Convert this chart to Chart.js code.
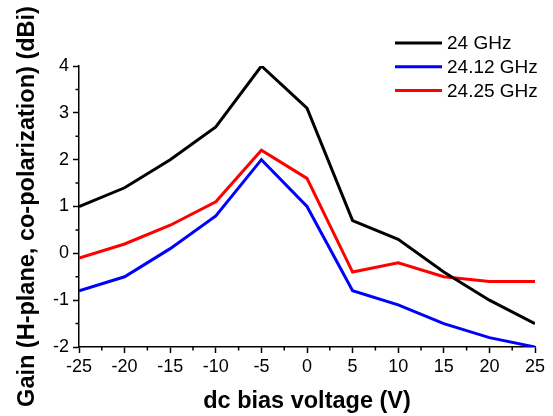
<!DOCTYPE html>
<html lang="en">
<head>
    <meta charset="UTF-8" />
    <title>Gain vs dc bias voltage</title>
    <style>
        html, body { margin: 0; padding: 0; background: #fff; }
        #wrap { width: 553px; height: 416px; position: relative; }
    </style>
</head>
<body>
    <div id="wrap"><canvas id="myChart" width="553" height="416"></canvas></div>

    <script src="https://cdn.jsdelivr.net/npm/chart.js@4/dist/chart.umd.min.js"></script>
    <script>
        // data
        const voltages = [-25, -20, -15, -10, -5, 0, 5, 10, 15, 20, 25];
        const gain24 = [1.0, 1.4, 2.0, 2.7, 4.0, 3.1, 0.7, 0.3, -0.4, -1.0, -1.5];
        const gain2412 = [-0.8, -0.5, 0.1, 0.8, 2.0, 1.0, -0.8, -1.1, -1.5, -1.8, -2.0];
        const gain2425 = [-0.1, 0.2, 0.6, 1.1, 2.2, 1.6, -0.4, -0.2, -0.5, -0.6, -0.6];
        const seriesNames = ["24 GHz", "24.12 GHz", "24.25 GHz"];
        const seriesColors = ["#000000", "#0000ff", "#ff0000"];

        const font = "Arial, 'Liberation Sans', sans-serif";

        const toPoints = (ys) => voltages.map((v, i) => ({ x: v, y: ys[i] }));

        // small ticks between the labelled ones, drawn outward like origin
        const minorTicks = {
            id: "minorTicks",
            afterDraw(chart) {
                const ctx = chart.ctx;
                const xs = chart.scales.x, ys = chart.scales.y;
                ctx.save();
                ctx.strokeStyle = "#000";
                ctx.lineWidth = 1.5;
                ctx.beginPath();
                for (let v = -22.5; v < 25; v += 5) {
                    const px = xs.getPixelForValue(v);
                    ctx.moveTo(px, xs.top);
                    ctx.lineTo(px, xs.top + 3.5);
                }
                for (let v = -1.5; v < 4; v += 1) {
                    const py = ys.getPixelForValue(v);
                    ctx.moveTo(ys.right, py);
                    ctx.lineTo(ys.right - 3.5, py);
                }
                ctx.stroke();
                ctx.restore();
            }
        };

        // legend sitting inside the plot, top right
        const innerLegend = {
            id: "innerLegend",
            afterDraw(chart) {
                const ctx = chart.ctx;
                ctx.save();
                ctx.font = "19px " + font;
                ctx.textBaseline = "middle";
                chart.data.datasets.forEach((ds, i) => {
                    const y = 43 + i * 23.7;
                    ctx.strokeStyle = ds.borderColor;
                    ctx.lineWidth = 3;
                    ctx.beginPath();
                    ctx.moveTo(395, y);
                    ctx.lineTo(442, y);
                    ctx.stroke();
                    ctx.fillStyle = "#000";
                    ctx.fillText(ds.label, 447, y + 1);
                });
                ctx.restore();
            }
        };

        const datasets = [gain24, gain2412, gain2425].map((ys, i) => ({
            label: seriesNames[i],
            data: toPoints(ys),
            borderColor: seriesColors[i],
            backgroundColor: seriesColors[i],
            borderWidth: 3,
            pointRadius: 0,
            tension: 0,
        }));

        new Chart(document.getElementById("myChart"), {
            type: "line",
            data: { datasets },
            options: {
                responsive: false,
                animation: false,
                layout: { padding: { top: 66, right: 18, left: 0, bottom: 0 } },
                plugins: {
                    legend: { display: false },
                    tooltip: { enabled: false },
                },
                scales: {
                    x: {
                        type: "linear",
                        min: -25,
                        max: 25,
                        afterFit: (s) => { s.height = 69; },
                        ticks: {
                            stepSize: 5,
                            color: "#000",
                            padding: 3,
                            maxRotation: 0,
                            font: { family: font, size: 18 },
                        },
                        grid: { drawOnChartArea: false, drawTicks: true, tickLength: 6, tickColor: "#000", tickWidth: 1.5 },
                        border: { display: true, color: "#000", width: 1.5 },
                        title: {
                            display: true,
                            text: "dc bias voltage (V)",
                            color: "#000",
                            font: { family: font, size: 23.5, weight: "bold" },
                            padding: { top: 0, bottom: 0 },
                        },
                    },
                    y: {
                        min: -2,
                        max: 4,
                        afterFit: (s) => { s.width = 79; },
                        ticks: {
                            stepSize: 1,
                            color: "#000",
                            padding: 4,
                            font: { family: font, size: 18 },
                        },
                        grid: { drawOnChartArea: false, drawTicks: true, tickLength: 6, tickColor: "#000", tickWidth: 1.5 },
                        border: { display: true, color: "#000", width: 1.5 },
                        title: {
                            display: true,
                            text: "Gain (H-plane, co-polarization) (dBi)",
                            color: "#000",
                            font: { family: font, size: 23.5, weight: "bold" },
                            padding: { top: 13, bottom: 0 },
                        },
                    },
                },
            },
            plugins: [minorTicks, innerLegend],
        });
    </script>
</body>
</html>
